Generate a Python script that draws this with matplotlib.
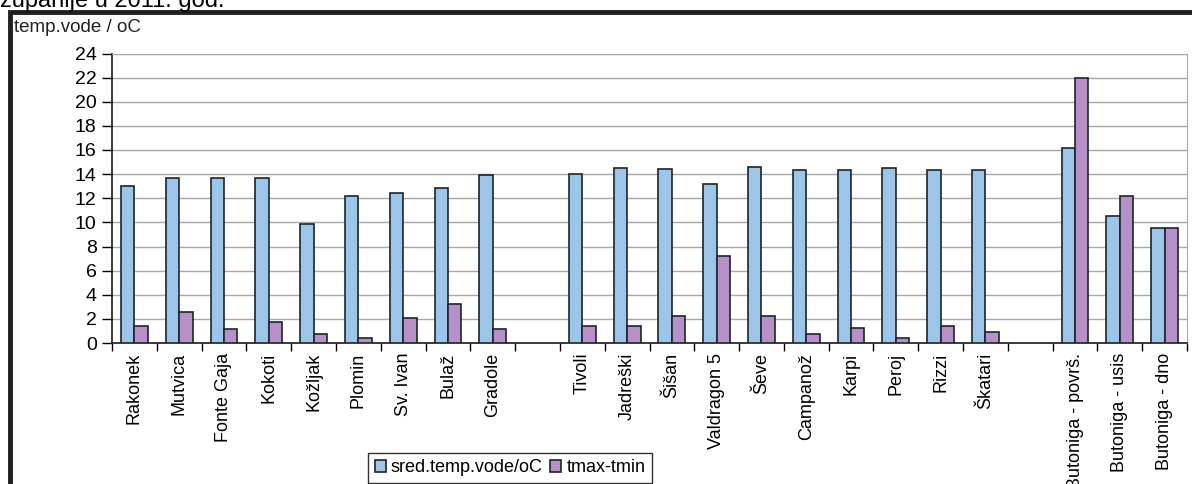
import matplotlib
matplotlib.use("Agg")
import matplotlib.pyplot as plt
from matplotlib.patches import Rectangle
import numpy as np

plt.rcParams['font.family'] = ['Liberation Sans', 'DejaVu Sans']

# three groups of sites, one empty slot between groups
group_1 = ["Rakonek", "Mutvica", "Fonte Gaja", "Kokoti", "Kožljak", "Plomin",
           "Sv. Ivan", "Bulaž", "Gradole"]
group_2 = ["Tivoli", "Jadreški", "Šišan", "Valdragon 5", "Ševe", "Campanož",
           "Karpi", "Peroj", "Rizzi", "Škatari"]
group_3 = ["Butoniga - površ.", "Butoniga - usis", "Butoniga - dno"]

sred_temp = [13.05, 13.7, 13.7, 13.7, 9.9, 12.2, 12.4, 12.85, 13.95,
             14.05, 14.5, 14.4, 13.15, 14.6, 14.35, 14.35, 14.5, 14.35, 14.35,
             16.2, 10.55, 9.55]
tmax_tmin = [1.4, 2.6, 1.15, 1.7, 0.75, 0.45, 2.1, 3.2, 1.2,
             1.45, 1.45, 2.2, 7.25, 2.2, 0.75, 1.25, 0.45, 1.4, 0.95,
             21.95, 12.2, 9.55]

labels = []
pos = []
slot = 0
for g in [group_1, group_2, group_3]:
    for name in g:
        labels.append(name)
        pos.append(slot)
        slot += 1
    slot += 1
n_slots = slot - 1
pos = np.array(pos)

fig = plt.figure(figsize=(11.92, 4.84), dpi=100)
ax = fig.add_axes([112 / 1192, 141 / 484, 1075 / 1192, 289.5 / 484])

w = 0.3
ax.bar(pos - w / 2, sred_temp, w, color='#9cc5e8', edgecolor='#1a2530',
       linewidth=1.2, label='sred.temp.vode/oC', zorder=3)
ax.bar(pos + w / 2, tmax_tmin, w, color='#b690c6', edgecolor='#1a2530',
       linewidth=1.2, label='tmax-tmin', zorder=3)

ax.set_xlim(-0.5, n_slots - 0.5)
ax.set_ylim(0, 24)
ax.set_yticks(range(0, 25, 2))
ax.yaxis.grid(True, color='#a8a8a8', linewidth=1.0, zorder=0)

ax.set_xticks(pos)
ax.set_xticklabels(labels, rotation=90, fontsize=13, va='top')
ax.set_xticks(np.arange(-0.5, n_slots, 1.0), minor=True)
ax.tick_params(axis='x', which='major', length=0, pad=7)
ax.tick_params(axis='x', which='minor', length=6, width=1, direction='out')
ax.tick_params(axis='y', length=7, width=1, direction='out', labelsize=14, pad=4)

for s in ['top', 'right']:
    ax.spines[s].set_color('#a8a8a8')
for s in ['left', 'bottom']:
    ax.spines[s].set_color('#1a1a1a')
    ax.spines[s].set_linewidth(1.2)

fig.legend(loc='lower center', bbox_to_anchor=(510 / 1192, 1.5 / 484), ncol=2,
           fontsize=13, frameon=True, fancybox=False, edgecolor='black',
           handlelength=0.6, handleheight=0.6, handletextpad=0.3,
           columnspacing=0.4, borderpad=0.35, borderaxespad=0)

fig.text(14 / 1192, 1 - 27 / 484, "temp.vode / oC", fontsize=13.5, va='center',
         color='#222222')
fig.text(0.0, 1 - 7 / 484, "županije u 2011. god.", fontsize=17, va='baseline')

# outer frame of the scanned figure
fig.add_artist(Rectangle((10 / 1192, -0.1), 1.2, 1 - 12 / 484 + 0.1,
                         transform=fig.transFigure, fill=False,
                         edgecolor='#202020', linewidth=3.5))

fig.savefig("out.png", dpi=100)
